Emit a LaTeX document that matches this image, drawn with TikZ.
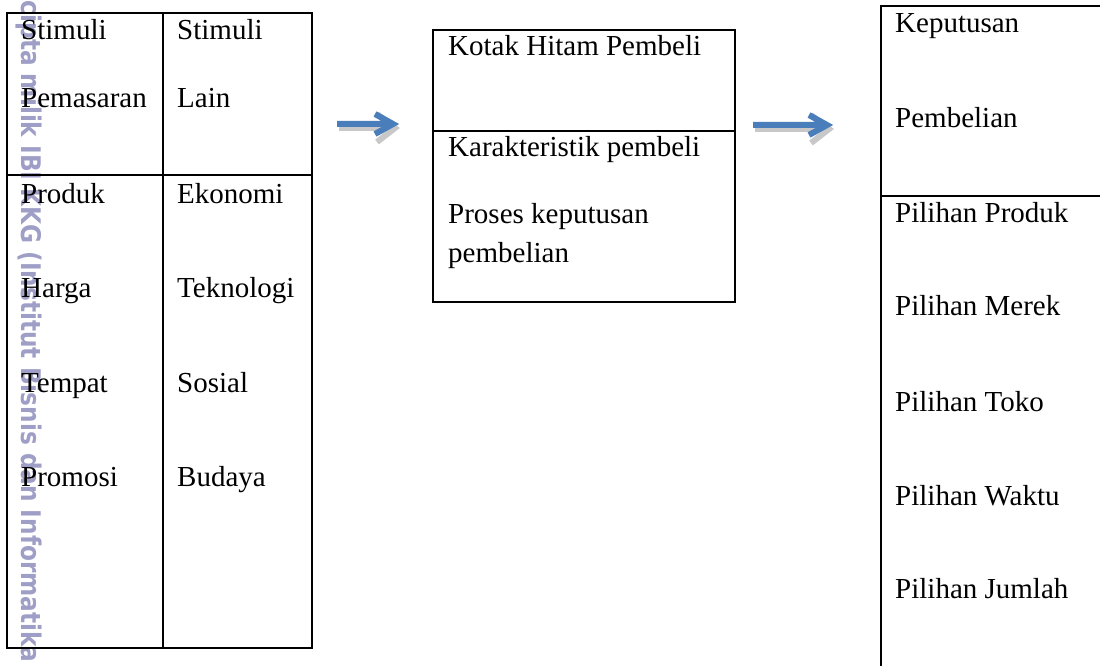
\documentclass[tikz,border=0pt]{standalone}
\usepackage{fontspec}
\setmainfont{Liberation Serif}
\newfontfamily\wmfont{DejaVu Sans}
\definecolor{arrblue}{RGB}{74,126,187}
\definecolor{arrshade}{RGB}{200,200,200}
\definecolor{wmcol}{RGB}{158,158,198}
\begin{document}
\begin{tikzpicture}[x=1pt,y=-1pt,
  txt/.style={anchor=base west, inner sep=0pt, font=\fontsize{29}{35}\selectfont},
  boxline/.style={draw=black, line width=1.3pt},
  wm/.style={rotate=-90, xscale=0.86, anchor=west, inner sep=0pt, text=wmcol, font=\wmfont\bfseries\fontsize{27}{32}\selectfont},
  arrbody/.style={draw=arrblue, line width=6pt, line join=miter},
  arrshadow/.style={draw=arrshade, line width=6pt, line join=miter}]
\clip (0,0) rectangle (1100,666);
\fill[white] (0,0) rectangle (1100,666);
% watermark
\node[wm] (wmark) at (29,0.5) {cipta milik IBI KKG (Institut Bisnis dan Informatika};
% left table
\draw[boxline] (7,13) rectangle (312,648);
\draw[boxline] (163,13) -- (163,648);
\draw[boxline] (7,175) -- (312,175);
\node[txt] (l1) at (21,40) {Stimuli};
\node[txt] (l2) at (21,108) {Pemasaran};
\node[txt] (l3) at (21,203) {Produk};
\node[txt] (l4) at (21,297) {Harga};
\node[txt] (l5) at (21,392) {Tempat};
\node[txt] (l6) at (21,486) {Promosi};
\node[txt] (r1) at (177,40) {Stimuli};
\node[txt] (r2) at (177,108) {Lain};
\node[txt] (r3) at (177,203) {Ekonomi};
\node[txt] (r4) at (177,297) {Teknologi};
\node[txt] (r5) at (177,392) {Sosial};
\node[txt] (r6) at (177,486) {Budaya};
% middle box
\draw[boxline] (433,30) rectangle (735,302);
\draw[boxline] (433,131) -- (735,131);
\node[txt] (m1) at (448,56) {Kotak Hitam Pembeli};
\node[txt] (m2) at (448,157) {Karakteristik pembeli};
\node[txt] (m3) at (448,223) {Proses keputusan};
\node[txt] (m4) at (448,262) {pembelian};
% right box
\draw[boxline] (1102,6) -- (881,6) -- (881,668);
\draw[boxline] (881,196) -- (1102,196);
\node[txt] (k1) at (895,33) {Keputusan};
\node[txt] (k2) at (895,128) {Pembelian};
\node[txt] (k3) at (895,222) {Pilihan Produk};
\node[txt] (k4) at (895,315) {Pilihan Merek};
\node[txt] (k5) at (895,411) {Pilihan Toko};
\node[txt] (k6) at (895,505) {Pilihan Waktu};
\node[txt] (k7) at (895,598) {Pilihan Jumlah};
% arrows
\coordinate (a1s) at (337,124);
\coordinate (a1e) at (393,124);
\coordinate (a2s) at (753,125);
\coordinate (a2e) at (827,125);
\foreach \s/\e in {a1s/a1e, a2s/a2e}{
  \draw[arrshadow] ([shift={(2,4)}]\s) -- ([shift={(-2,4)}]\e)
    ([shift={(-16,-10)}]\e) -- ([shift={(2,4)}]\e) -- ([shift={(-16,18)}]\e);
  \draw[arrbody] (\s) -- ([shift={(-4,0)}]\e)
    ([shift={(-18,-10)}]\e) -- (\e) -- ([shift={(-18,10)}]\e);
}
\end{tikzpicture}
\end{document}
